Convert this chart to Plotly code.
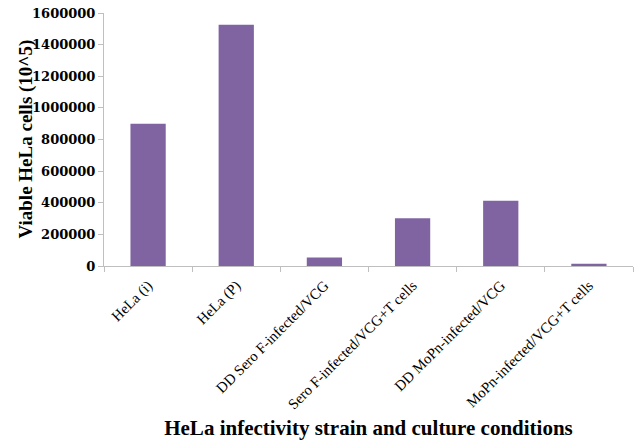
import plotly.graph_objects as go

categories = ["HeLa (i)", "HeLa (P)", "DD Sero F-infected/VCG", "Sero F-infected/VCG+T cells",
              "DD MoPn-infected/VCG", "MoPn-infected/VCG+T cells"]
values = [900000, 1525000, 53000, 302000, 412000, 15000]
y_ticks = [0, 200000, 400000, 600000, 800000, 1000000, 1200000, 1400000, 1600000]

fig = go.Figure(go.Bar(x=categories, y=values, marker=dict(color="#8064A2", line=dict(width=0)),
                       width=0.4))

fig.update_layout(
    width=638, height=440,
    margin=dict(l=104, r=5, t=13, b=174),
    paper_bgcolor="white", plot_bgcolor="white",
    showlegend=False,
    xaxis=dict(
        automargin=False,
        tickangle=-45, tickson="boundaries", ticks="outside", ticklen=5, tickcolor="#BFBFBF",
        ticklabelstandoff=4,
        showline=True, linecolor="#BFBFBF", linewidth=1, showgrid=False,
        tickfont=dict(family="Liberation Serif", size=14.8, color="#000000"),
        title=dict(text="<b>HeLa infectivity strain and culture conditions</b>",
                   font=dict(family="Liberation Serif", size=21, color="#000000"), standoff=13),
    ),
    yaxis=dict(
        automargin=False,
        range=[0, 1600000], tickvals=y_ticks, ticktext=[str(v) for v in y_ticks],
        ticks="outside", ticklen=5, tickcolor="#BFBFBF",
        showline=True, linecolor="#BFBFBF", linewidth=1, showgrid=False, zeroline=False,
        tickfont=dict(family="DejaVu Serif", size=13, color="#000000", weight="bold"),
    ),
    annotations=[dict(
        text="<b>Viable HeLa cells (10^5)</b>", textangle=-90,
        xref="paper", yref="paper", x=0, y=0.5, xanchor="center", yanchor="middle",
        xshift=-79, showarrow=False,
        font=dict(family="Liberation Serif", size=19, color="#000000"),
    )],
)

fig.write_html("out.html", config={"displayModeBar": False},
               post_script="document.body.style.margin='0px';")
